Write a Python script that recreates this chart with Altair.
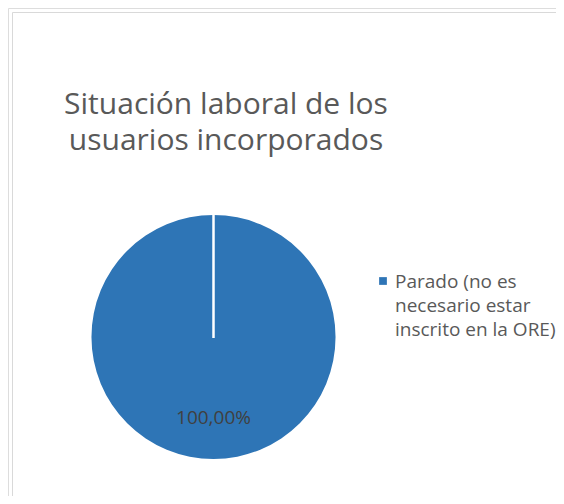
import altair as alt
import pandas as pd

# Data
categories = ["Parado (no es necesario estar inscrito en la ORE)"]
legend_lines = ["Parado (no es\nnecesario estar\ninscrito en la ORE)"]
values = [100.0]
pct_labels = ["100,00%"]
title_line1 = "Situación laboral de los"
title_line2 = "usuarios incorporados"

df = pd.DataFrame({
    "categoria": categories,
    "leyenda": legend_lines,
    "valor": values,
    "etiqueta": pct_labels,
})

BLUE = "#2E75B6"
FONT = "Open Sans"
CX, CY, R = 205.5, 329, 122

color = alt.Color("categoria:N", scale=alt.Scale(domain=categories, range=[BLUE]), legend=None)

base = alt.Chart(df)

border_left = base.mark_rule(color="#d9d9d9", strokeWidth=1).encode(
    x=alt.value(4.5), y=alt.value(4.5), y2=alt.value(488)
)
border_top = base.mark_rule(color="#d9d9d9", strokeWidth=1).encode(
    x=alt.value(4.5), x2=alt.value(548), y=alt.value(4.5)
)

title1 = base.mark_text(
    font=FONT, fontSize=30, color="#595959", align="center", baseline="alphabetic"
).encode(x=alt.value(218), y=alt.value(106), text=alt.value(title_line1))

title2 = base.mark_text(
    font=FONT, fontSize=30, color="#595959", align="center", baseline="alphabetic"
).encode(x=alt.value(218), y=alt.value(142), text=alt.value(title_line2))

pie = base.mark_arc(outerRadius=R, strokeWidth=0).encode(
    theta=alt.Theta("valor:Q", stack=True),
    color=color,
    x=alt.value(CX), y=alt.value(CY),
)

sep = base.mark_rule(color="white", strokeWidth=2.5).encode(
    x=alt.value(CX), y=alt.value(CY - R - 1), y2=alt.value(CY + 1)
)

label = base.mark_text(
    radius=81, font=FONT, fontSize=19, color="#404040", baseline="middle", align="center"
).encode(
    theta=alt.Theta("valor:Q", stack=True),
    text="etiqueta:N",
    x=alt.value(CX), y=alt.value(CY),
)

legend_sym = base.mark_square(size=60, opacity=1).encode(
    color=color, x=alt.value(375), y=alt.value(273)
)

legend_txt = base.mark_text(
    font=FONT, fontSize=19, color="#595959", align="left", baseline="alphabetic",
    lineBreak="\n", lineHeight=24
).encode(x=alt.value(387), y=alt.value(280), text="leyenda:N")

chart = alt.layer(border_left, border_top, title1, title2, pie, sep, label, legend_sym, legend_txt).properties(
    width=548, height=488, padding=0, autosize=alt.AutoSizeParams(type="none")
).configure_view(stroke=None).configure(background="white")

chart.save("out.html", embed_options={"renderer": "svg", "actions": False})
